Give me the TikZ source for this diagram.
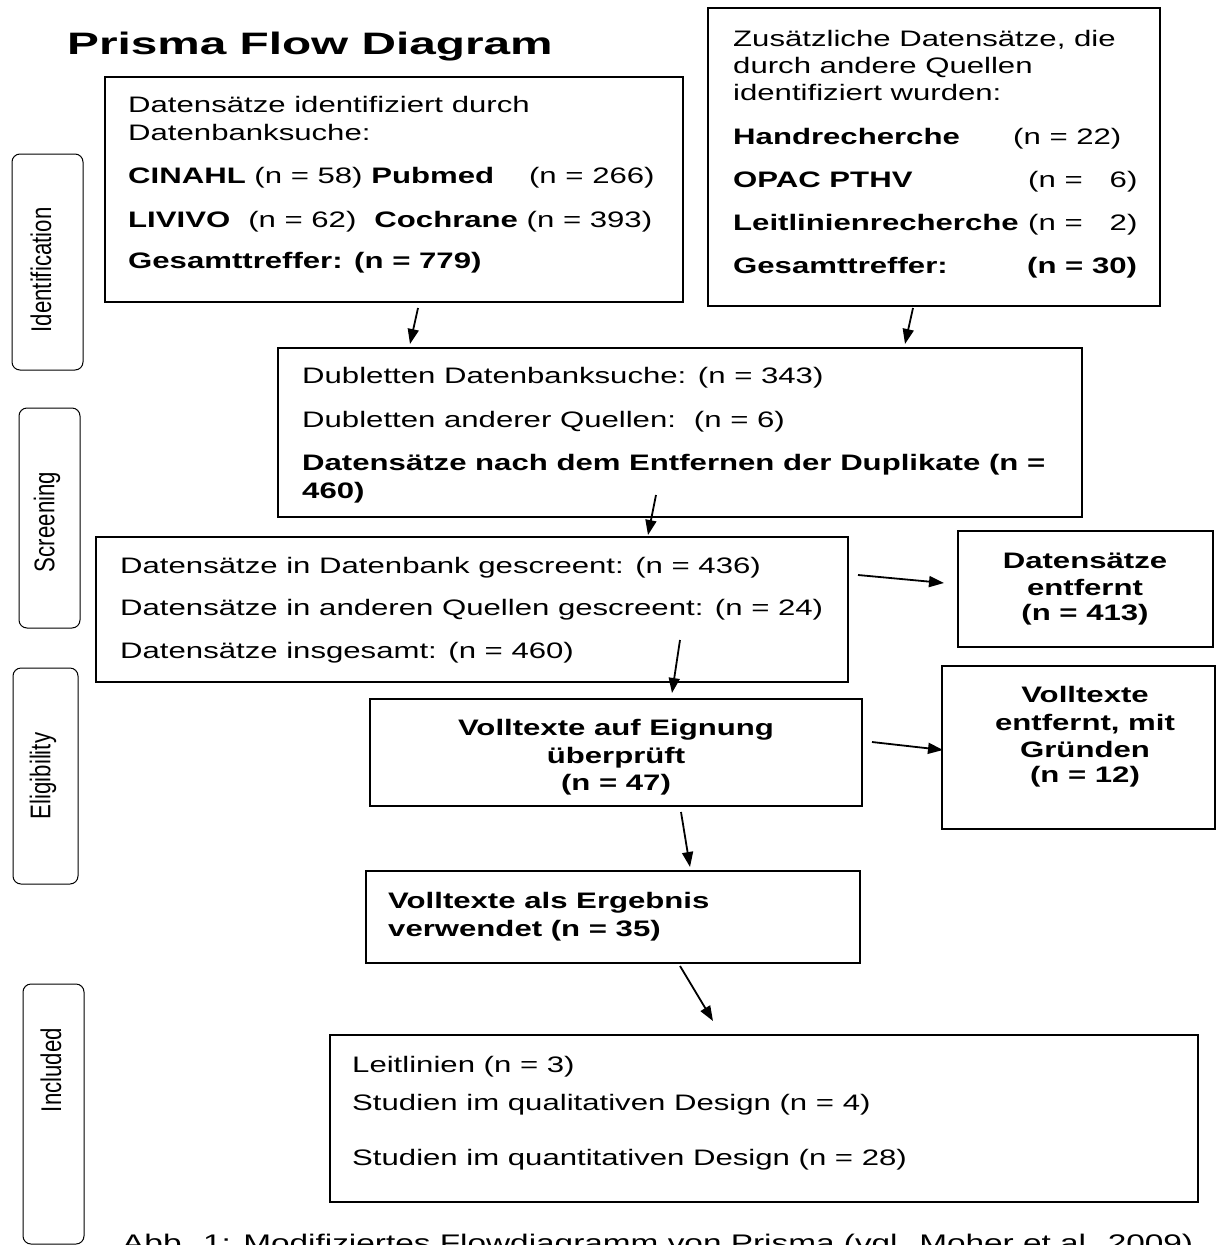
\documentclass[tikz,border=0pt]{standalone}
\usepackage{fontspec}
\setmainfont{Liberation Sans}[FakeStretch=1.39]
\newfontfamily\titlefont{Liberation Sans}[FakeStretch=1.54]
\newfontfamily\sidefont{Liberation Sans}[FakeStretch=0.78]
\usetikzlibrary{arrows.meta}
\tikzset{
  box/.style={draw, line width=1.4pt, inner sep=0pt},
  sidebox/.style={draw, line width=1pt, rounded corners=8pt, inner sep=0pt},
  sidelabel/.style={rotate=90, inner sep=0pt, font=\sidefont\fontsize{28.5}{32}\selectfont},
  tl/.style={anchor=base west, inner sep=0pt, font=\fontsize{22.4}{27}\selectfont},
  tc/.style={anchor=base, inner sep=0pt, font=\fontsize{22.4}{27}\selectfont\bfseries},
  arr/.style={line width=1.8pt, -{Triangle[length=15pt,width=11pt]}},
}
\begin{document}
\begin{tikzpicture}[x=1pt,y=-1pt]
\useasboundingbox (0,0) rectangle (1217,1245);

% title
\node[anchor=base west, inner sep=0pt, font=\titlefont\bfseries\fontsize{31}{36}\selectfont] (title) at (67,54) {Prisma Flow Diagram};

% side boxes
\node[sidebox, minimum width=71pt, minimum height=216pt] (sI) at (47.5,262) {};
\node[sidelabel] (lI) at (41,270) {Identification};
\node[sidebox, minimum width=61pt, minimum height=220pt] (sS) at (49.5,518) {};
\node[sidelabel] (lS) at (47,522) {Screening};
\node[sidebox, minimum width=65pt, minimum height=216pt] (sE) at (45.5,776) {};
\node[sidelabel] (lE) at (43,776) {Eligibility};
\node[sidebox, minimum width=61pt, minimum height=260pt] (sN) at (53.5,1114) {};
\node[sidelabel] (lN) at (51,1070) {Included};

% boxes
\node[box, minimum width=578pt, minimum height=225pt] (b1) at (394,189.5) {};
\node[box, minimum width=452pt, minimum height=298pt] (b2) at (934,157) {};
\node[box, minimum width=804pt, minimum height=169pt] (b3) at (680,432.5) {};
\node[box, minimum width=752pt, minimum height=145pt] (b4) at (472,609.5) {};
\node[box, minimum width=492pt, minimum height=107pt] (b5) at (616,752.5) {};
\node[box, minimum width=494pt, minimum height=92pt] (b6) at (613,917) {};
\node[box, minimum width=868pt, minimum height=167pt] (b7) at (764,1118.5) {};
\node[box, minimum width=255pt, minimum height=116pt] (r1) at (1085.5,589) {};
\node[box, minimum width=273pt, minimum height=163pt] (r2) at (1078.5,747.5) {};

% box 1 text
\node[tl] (t1a) at (128,112) {Datensätze identifiziert durch};
\node[tl] (t1b) at (128,140) {Datenbanksuche:};
\node[tl] (t1c) at (128,183) {\textbf{CINAHL} (n = 58) \textbf{Pubmed}\hspace{35pt}(n = 266)};
\node[tl] (t1d) at (128,227) {\textbf{LIVIVO}\hspace{18pt}(n = 62)\hspace{18pt}\textbf{Cochrane} (n = 393)};
\node[tl] (t1e) at (128,268) {\textbf{Gesamttreffer: (n = 779)}};

% box 2 text
\node[tl] (t2a) at (733,46) {Zusätzliche Datensätze, die};
\node[tl] (t2b) at (733,73) {durch andere Quellen};
\node[tl] (t2c) at (733,100) {identifiziert wurden:};
\node[tl] (t2d) at (733,144) {\textbf{Handrecherche}};
\node[tl] (t2dn) at (1013,144) {(n = 22)};
\node[tl] (t2e) at (733,187) {\textbf{OPAC PTHV}};
\node[tl] (t2en) at (1028,187) {(n =\hspace{27pt}6)};
\node[tl] (t2f) at (733,230) {\textbf{Leitlinienrecherche}};
\node[tl] (t2fn) at (1028,230) {(n =\hspace{27pt}2)};
\node[tl] (t2g) at (733,273) {\textbf{Gesamttreffer:}};
\node[tl] (t2gn) at (1027,273) {\textbf{(n = 30)}};

% box 3 text
\node[tl] (t3a) at (302,383) {Dubletten Datenbanksuche: (n = 343)};
\node[tl] (t3b) at (302,427) {Dubletten anderer Quellen:\hspace{18pt}(n = 6)};
\node[tl] (t3c) at (302,470) {\textbf{Datensätze nach dem Entfernen der Duplikate (n =}};
\node[tl] (t3d) at (302,498) {\textbf{460)}};

% box 4 text
\node[tl] (t4a) at (120,573) {Datensätze in Datenbank gescreent: (n = 436)};
\node[tl] (t4b) at (120,615) {Datensätze in anderen Quellen gescreent: (n = 24)};
\node[tl] (t4c) at (120,658) {Datensätze insgesamt: (n = 460)};

% box 5 text
\node[tc] (t5a) at (616,735) {Volltexte auf Eignung};
\node[tc] (t5b) at (616,763) {überprüft};
\node[tc] (t5c) at (616,790) {(n = 47)};

% box 6 text
\node[tl] (t6a) at (388,908) {\textbf{Volltexte als Ergebnis}};
\node[tl] (t6b) at (388,936) {\textbf{verwendet (n = 35)}};

% box 7 text
\node[tl] (t7a) at (352,1072) {Leitlinien (n = 3)};
\node[tl] (t7b) at (352,1110) {Studien im qualitativen Design (n = 4)};
\node[tl] (t7c) at (352,1165) {Studien im quantitativen Design (n = 28)};

% right boxes text
\node[tc] (r1a) at (1085,568) {Datensätze};
\node[tc] (r1b) at (1085,595) {entfernt};
\node[tc] (r1c) at (1085,620) {(n = 413)};
\node[tc] (r2a) at (1085,702) {Volltexte};
\node[tc] (r2b) at (1085,730) {entfernt, mit};
\node[tc] (r2c) at (1085,757) {Gründen};
\node[tc] (r2d) at (1085,782) {(n = 12)};

% caption
\node[anchor=base west, inner sep=0pt, font=\fontsize{24}{28}\selectfont] (cap) at (122,1251) {Abb. 1: Modifiziertes Flowdiagramm von Prisma (vgl. Moher et al. 2009)};

% arrows
\coordinate (a1s) at (418,308); \coordinate (a1e) at (410,344);
\coordinate (a2s) at (913,308); \coordinate (a2e) at (905,344);
\coordinate (a3s) at (656,495); \coordinate (a3e) at (648,535);
\coordinate (a4s) at (680,640); \coordinate (a4e) at (672,693);
\coordinate (a5s) at (858,575); \coordinate (a5e) at (944,583);
\coordinate (a6s) at (681,812); \coordinate (a6e) at (690,867);
\coordinate (a7s) at (872,742); \coordinate (a7e) at (943,750);
\coordinate (a8s) at (680,966); \coordinate (a8e) at (713,1021);
\draw[arr] (a1s) -- (a1e);
\draw[arr] (a2s) -- (a2e);
\draw[arr] (a3s) -- (a3e);
\draw[arr] (a4s) -- (a4e);
\draw[arr] (a5s) -- (a5e);
\draw[arr] (a6s) -- (a6e);
\draw[arr] (a7s) -- (a7e);
\draw[arr] (a8s) -- (a8e);
\end{tikzpicture}
\end{document}
